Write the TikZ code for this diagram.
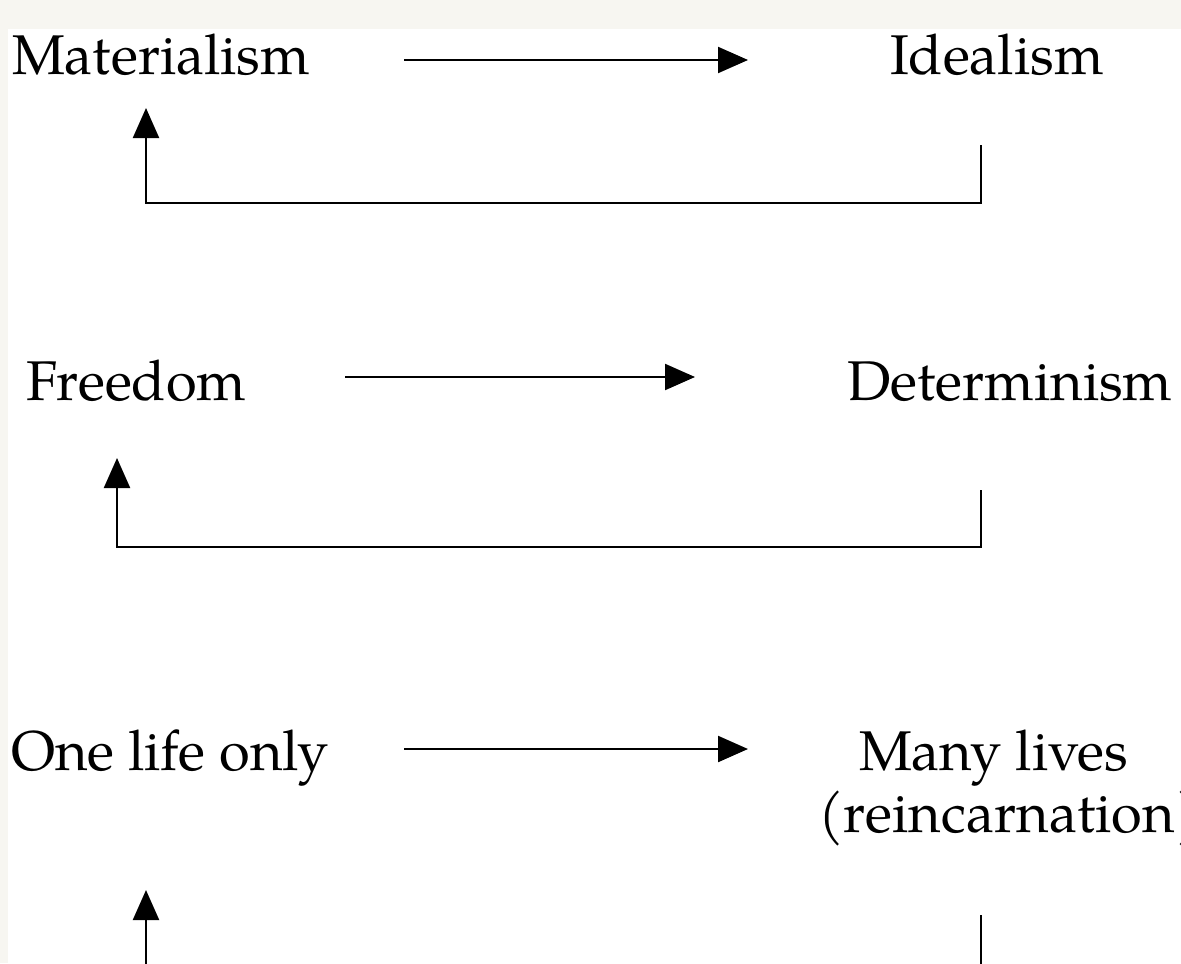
\documentclass[tikz,border=0pt]{standalone}
\usepackage{fontspec}
\setmainfont{TeX Gyre Pagella}
\usetikzlibrary{arrows.meta}
\definecolor{bgc}{HTML}{F7F6F1}
\begin{document}
\begin{tikzpicture}[x=0.5pt,y=-0.5pt,
  lbl/.style={inner sep=0pt, outer sep=0pt, anchor=base west, font=\fontsize{28pt}{31pt}\selectfont},
  arr/.style={line width=1.1pt, -{Triangle[length=15pt,width=13pt]}},
  plain/.style={line width=1.1pt}]
\fill[bgc] (0,0) rectangle (1181,963);
\fill[white] (8,29) rectangle (1181,963);
\useasboundingbox (0,0) rectangle (1181,963);

% row 1
\node[lbl] (mat) at (12,75) {Materialism};
\node[lbl] (ide) at (890,75) {Idealism};
\coordinate (f1s) at (404,60);
\coordinate (f1e) at (748,60);
\draw[arr] (f1s) -- (f1e);
\coordinate (r1a) at (981,145);
\coordinate (r1b) at (146,203);
\coordinate (r1c) at (146,108);
\draw[arr] (r1a) |- (r1b) -- (r1c);

% row 2
\node[lbl] (fre) at (26,400) {Freedom};
\node[lbl] (det) at (847,400) {Determinism};
\coordinate (f2s) at (345,377);
\coordinate (f2e) at (695,377);
\draw[arr] (f2s) -- (f2e);
\coordinate (r2a) at (981,490);
\coordinate (r2b) at (117,547);
\coordinate (r2c) at (117,458);
\draw[arr] (r2a) |- (r2b) -- (r2c);

% row 3
\node[lbl] (one) at (11,770) {One life only};
\node[lbl] (many) at (859,770) {Many lives};
\node[lbl] (rein) at (818,832) {(reincarnation)};
\coordinate (f3s) at (404,749);
\coordinate (f3e) at (748,749);
\draw[arr] (f3s) -- (f3e);
\coordinate (r3a) at (981,915);
\coordinate (r3d) at (981,975);
\coordinate (r3b) at (146,975);
\coordinate (r3c) at (146,890);
\draw[plain] (r3a) -- (r3d);
\draw[arr] (r3b) -- (r3c);
\end{tikzpicture}
\end{document}
